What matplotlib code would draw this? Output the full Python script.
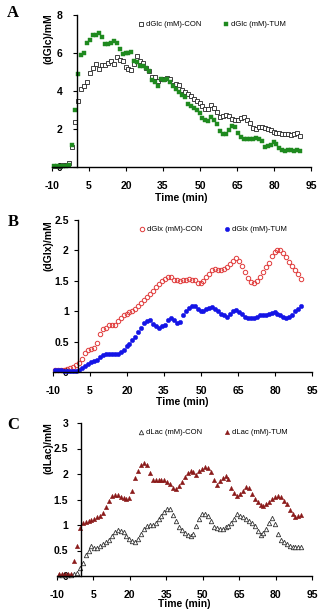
import numpy as np
import matplotlib
matplotlib.use("Agg")
import matplotlib.pyplot as plt

plt.rcParams['font.family'] = ['Liberation Sans', 'DejaVu Sans']

# Time grid (min)
time = np.arange(84) * 1.2 - 9

glc_con = [0.05, 0.05, 0.07, 0.08, 0.10, 0.22, 1.05, 2.35, 3.50, 4.10,
           4.27, 4.50, 4.96, 5.20, 5.42, 5.15, 5.35, 5.35, 5.50, 5.58,
           5.43, 5.80, 5.65, 5.60, 5.28, 5.15, 5.10, 5.40, 5.85, 5.60,
           5.45, 5.20, 5.05, 4.75, 4.72, 4.55, 4.65, 4.62, 4.70, 4.65,
           4.30, 4.35, 4.30, 4.05, 3.97, 3.85, 3.72, 3.60, 3.50, 3.35,
           3.20, 3.05, 3.05, 3.25, 3.10, 2.90, 2.65, 2.70, 2.75, 2.70,
           2.55, 2.50, 2.50, 2.60, 2.65, 2.50, 2.30, 2.05, 2.00, 2.10,
           2.10, 2.05, 2.00, 1.95, 1.85, 1.80, 1.78, 1.75, 1.75, 1.73,
           1.70, 1.72, 1.78, 1.63]
glc_tum = [0.05, 0.05, 0.05, 0.05, 0.06, 0.10, 1.15, 3.00, 4.90, 5.90,
           6.00, 6.55, 6.70, 6.95, 6.95, 7.05, 6.85, 6.50, 6.45, 6.55,
           6.65, 6.55, 6.20, 5.95, 6.00, 6.00, 6.05, 5.60, 5.55, 5.30,
           5.30, 5.20, 5.05, 4.60, 4.45, 4.25, 4.65, 4.60, 4.65, 4.50,
           4.25, 4.10, 3.95, 3.80, 3.70, 3.30, 3.20, 3.10, 3.00, 2.85,
           2.60, 2.50, 2.40, 2.65, 2.50, 2.25, 1.90, 1.75, 1.75, 1.95,
           2.15, 2.10, 1.80, 1.60, 1.50, 1.45, 1.45, 1.48, 1.55, 1.50,
           1.35, 1.05, 1.10, 1.15, 1.30, 1.20, 1.00, 0.88, 0.85, 0.88,
           0.88, 0.86, 0.88, 0.85]

glx_con = [0.03, 0.03, 0.03, 0.03, 0.05, 0.06, 0.08, 0.11, 0.14, 0.22,
           0.31, 0.36, 0.38, 0.40, 0.48, 0.62, 0.70, 0.72, 0.77, 0.78,
           0.77, 0.84, 0.88, 0.93, 0.96, 0.98, 1.01, 1.04, 1.08, 1.13,
           1.18, 1.24, 1.29, 1.33, 1.40, 1.45, 1.49, 1.53, 1.57, 1.56,
           1.51, 1.51, 1.50, 1.52, 1.51, 1.53, 1.52, 1.51, 1.47, 1.46,
           1.50, 1.56, 1.62, 1.67, 1.70, 1.67, 1.68, 1.70, 1.72, 1.77,
           1.82, 1.87, 1.83, 1.75, 1.65, 1.55, 1.48, 1.46, 1.50, 1.57,
           1.64, 1.72, 1.80, 1.90, 1.98, 2.01, 2.00, 1.96, 1.89, 1.81,
           1.74, 1.67, 1.62, 1.53]
glx_tum = [0.03, 0.03, 0.03, 0.02, 0.02, 0.02, 0.02, 0.02, 0.03, 0.06,
           0.10, 0.13, 0.16, 0.18, 0.20, 0.25, 0.28, 0.30, 0.30, 0.29,
           0.30, 0.30, 0.33, 0.37, 0.42, 0.46, 0.52, 0.58, 0.66, 0.73,
           0.80, 0.84, 0.86, 0.79, 0.75, 0.73, 0.75, 0.78, 0.85, 0.89,
           0.85, 0.80, 0.83, 0.93, 1.00, 1.06, 1.09, 1.08, 1.04, 1.01,
           1.01, 1.03, 1.06, 1.07, 1.04, 1.00, 0.96, 0.93, 0.91, 0.96,
           1.00, 1.02, 0.99, 0.95, 0.91, 0.89, 0.88, 0.89, 0.91, 0.93,
           0.94, 0.94, 0.95, 0.97, 0.98, 0.96, 0.94, 0.91, 0.89, 0.90,
           0.94, 1.00, 1.04, 1.09]

lac_con = [0.02, 0.02, 0.02, 0.02, 0.02, 0.03, 0.06, 0.15, 0.26, 0.41,
           0.50, 0.58, 0.54, 0.54, 0.58, 0.63, 0.66, 0.70, 0.78, 0.87,
           0.90, 0.89, 0.86, 0.78, 0.72, 0.69, 0.66, 0.72, 0.83, 0.92,
           0.98, 1.00, 1.00, 1.04, 1.11, 1.18, 1.25, 1.31, 1.32, 1.20,
           1.07, 0.97, 0.90, 0.85, 0.80, 0.79, 0.83, 0.98, 1.12, 1.21,
           1.22, 1.17, 1.08, 0.97, 0.94, 0.92, 0.93, 0.96, 0.98, 1.03,
           1.12, 1.21, 1.18, 1.16, 1.12, 1.08, 1.04, 0.99, 0.88, 0.81,
           0.84, 0.92, 1.04, 1.13, 1.02, 0.82, 0.70, 0.66, 0.62, 0.58,
           0.57, 0.56, 0.56, 0.57]
lac_tum = [0.03, 0.03, 0.04, 0.04, 0.04, 0.30, 0.58, 0.94, 1.04, 1.06,
           1.08, 1.10, 1.12, 1.15, 1.17, 1.23, 1.35, 1.47, 1.56, 1.59,
           1.58, 1.55, 1.53, 1.51, 1.53, 1.66, 1.92, 2.05, 2.18, 2.21,
           2.18, 2.02, 1.89, 1.89, 1.89, 1.89, 1.88, 1.85, 1.80, 1.72,
           1.70, 1.77, 1.84, 1.95, 2.01, 2.05, 2.03, 1.99, 2.05, 2.10,
           2.13, 2.12, 2.03, 1.88, 1.79, 1.86, 1.92, 1.96, 1.90, 1.72,
           1.62, 1.56, 1.61, 1.67, 1.74, 1.72, 1.61, 1.51, 1.45, 1.40,
           1.38, 1.42, 1.46, 1.51, 1.55, 1.56, 1.54, 1.47, 1.41, 1.30,
           1.22, 1.15, 1.18, 1.20]

x_ticks = [-10, 5, 20, 35, 50, 65, 80, 95]

W, H = 334, 614
fig = plt.figure(figsize=(W / 100, H / 100), dpi=100)


def make_ax(left, right, top, bottom):
    return fig.add_axes([left / W, 1 - bottom / H, (right - left) / W, (bottom - top) / H])


tick_font = dict(fontsize=7.5, fontweight='bold')


def style(ax, ymax, yticks, ylabels, ylabel, letter, ylab_top_px, letter_y_px, xlab_y_px, ypad):
    ax.set_xlim(-10, 95)
    ax.set_ylim(0, ymax)
    ax.spines['top'].set_visible(False)
    ax.spines['right'].set_visible(False)
    ax.spines['left'].set_position(('data', 0))
    for s in ('left', 'bottom'):
        ax.spines[s].set_linewidth(1.0)
        ax.spines[s].set_color('black')
    ax.set_xticks(x_ticks)
    ax.set_xticklabels([str(t) for t in x_ticks], **tick_font)
    ax.set_yticks(yticks)
    ax.set_yticklabels(ylabels, **tick_font)
    ax.tick_params(axis='x', direction='out', length=3, width=0.8, pad=7)
    ax.tick_params(axis='y', direction='out', length=3, width=0.8, pad=ypad)
    fig.text(48 / W, 1 - ylab_top_px / H, ylabel, rotation=90, ha='center', va='top',
             fontsize=7.5, fontweight='bold')
    fig.text(13 / W, 1 - letter_y_px / H, letter, ha='center', va='center',
             fontsize=12, fontweight='bold', family=['Liberation Serif', 'DejaVu Serif'])
    pos = ax.get_position()
    fig.text(pos.x0 + pos.width / 2, 1 - xlab_y_px / H, 'Time (min)', ha='center',
             va='center', fontsize=7.5, fontweight='bold')


legend_kw = dict(ncol=2, frameon=False, fontsize=5.5, handlelength=0.6,
                 handletextpad=0.3, columnspacing=3.0, borderaxespad=0.0,
                 loc='upper right')

# Panel A
axA = make_ax(52, 311, 15, 167)
axA.plot(time, glc_con, 's', ms=3.2, mfc='white', mec='#222222', mew=0.6,
         label='dGlc (mM)-CON', clip_on=False)
axA.plot(time, glc_tum, 's', ms=3.0, mfc='#1f8a1f', mec='#1f8a1f', mew=0.3,
         label='dGlc (mM)-TUM', clip_on=False)
style(axA, 8, [0, 2, 4, 6, 8], ['0', '2', '4', '6', '8'], '(dGlc)/mM', 'A', 13, 13, 198, 7)
axA.legend(bbox_to_anchor=(0.915, 0.98), **legend_kw)

# Panel B
axB = make_ax(53, 312, 220, 372)
axB.plot(time, glx_con, 'o', ms=3.2, mfc='none', mec='#e03a3a', mew=0.7,
         label='dGlx (mM)-CON', clip_on=False)
axB.plot(time, glx_tum, 'o', ms=3.2, mfc='#1414e6', mec='#1414e6', mew=0.3,
         label='dGlx (mM)-TUM', clip_on=False)
style(axB, 2.5, [0, 0.5, 1, 1.5, 2, 2.5], ['0', '0.5', '1', '1.5', '2', '2.5'],
      '(dGlx)/mM', 'B', 220, 222, 402, 3.5)
axB.legend(bbox_to_anchor=(0.915, 0.98), **legend_kw)

# Panel C
axC = make_ax(57, 312, 423, 576)
axC.plot(time, lac_con, '^', ms=3.2, mfc='white', mec='#333333', mew=0.6,
         label='dLac (mM)-CON', clip_on=False)
axC.plot(time, lac_tum, '^', ms=3.2, mfc='#8b1a1a', mec='#8b1a1a', mew=0.3,
         label='dLac (mM)-TUM', clip_on=False)
style(axC, 3, [0, 0.5, 1, 1.5, 2, 2.5, 3], ['0', '0.5', '1', '1.5', '2', '2.5', '3'],
      '(dLac)/mM', 'C', 422, 425, 604, 6.5)
axC.legend(bbox_to_anchor=(0.915, 0.98), **legend_kw)

fig.savefig('out.png', dpi=100, facecolor='white')
